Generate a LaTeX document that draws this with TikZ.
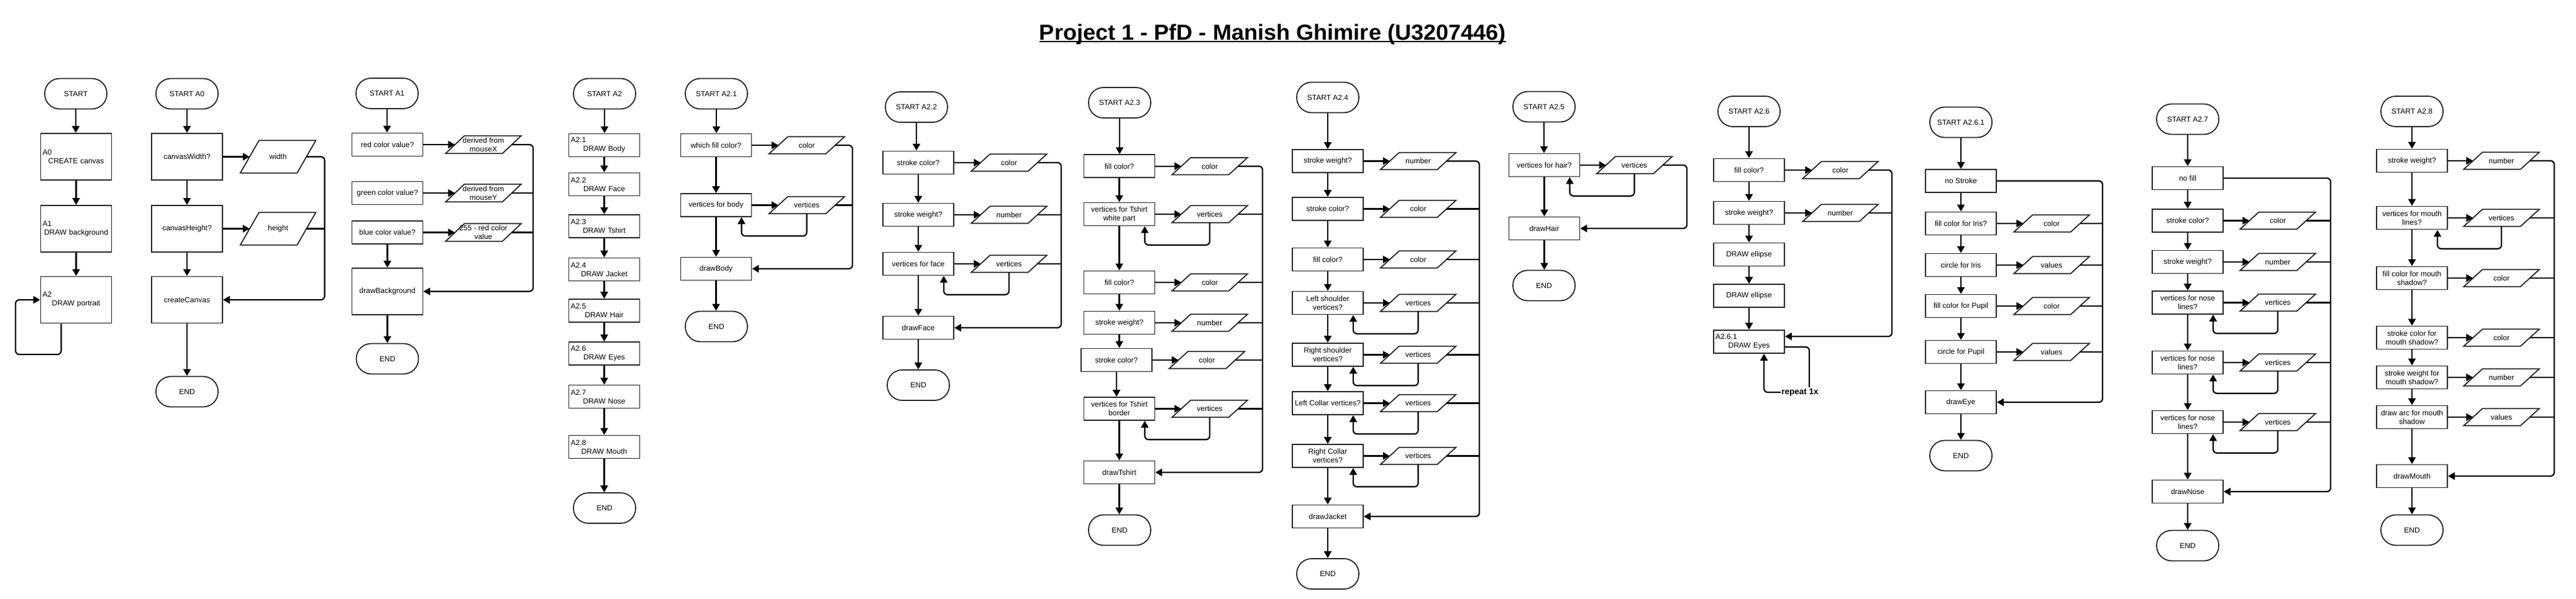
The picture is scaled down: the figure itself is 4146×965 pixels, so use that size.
\documentclass[tikz,border=0pt]{standalone}
\usepackage{fontspec}
\usepackage{graphicx}
\setmainfont{Liberation Sans}
\usetikzlibrary{arrows.meta}
\newcommand\myfs{\fontsize{12}{14}\selectfont}
\newcommand\mylbl[2]{\makebox[\hsize][l]{#1}\\#2}
\tikzset{
 shp/.style={draw=black!85, line width=1.8pt},
 term/.style={shp, rectangle, rounded corners=24pt, minimum width=100pt, minimum height=49pt, inner sep=0pt, font=\myfs},
 box/.style={shp, rectangle, minimum width=114pt, minimum height=37pt, inner sep=2pt, align=center, font=\myfs},
 lbox/.style={box, text width=108pt},
 paratxt/.style={rectangle, minimum width=121pt, minimum height=27pt, inner sep=0pt, align=center, font=\myfs},
 parashape/.style={shp, line join=miter},
 conn/.style={line width=2.2pt, rounded corners=6pt},
 arr/.style={conn, -{Triangle[length=11pt,width=12pt]}},
 replbl/.style={font=\bfseries\fontsize{13.5}{16}\selectfont, fill=white, inner sep=1.5pt},
}
\newcommand\mypara[5]{%
 \node[paratxt,minimum height=#5] (#1) at (#2,#3) {#4};
 \draw[parashape] ([xshift=30pt]#1.north west) -- (#1.north east) -- ([xshift=-30pt]#1.south east) -- (#1.south west) -- cycle;}
\newcommand\mydn[2]{\draw[arr] (#1.south) -- (#1.south |- #2.north);}
\newcommand\myrt[2]{\draw[arr] (#1.east) -- ([xshift=15pt]#2.west);}
\newcommand\mylp[2]{\draw[arr] (#2.south) -- ++(0,36) -| ([xshift=-17pt]#1.south east);}
\newcommand\myjn[2]{\draw[conn] ([xshift=-15pt]#1.east) -- (#2 |- #1.east);}
\newcommand\myfin[3]{\draw[arr] ([xshift=-15pt]#1.east) -| (#2 |- #3.east) -- (#3.east);}
\begin{document}
\begin{tikzpicture}[x=1pt,y=-1pt]
\useasboundingbox (0,0) rectangle (4146,965);
% title
\node[anchor=base, inner sep=0pt] (title) at (2048.5,65) {\resizebox{751pt}{25.5pt}{\bfseries Project 1 - PfD - Manish Ghimire (U3207446)}};
\draw[line width=2pt] ([yshift=-2.5pt]title.base west) -- ([yshift=-2.5pt]title.base east);

% ---------- column 0 : START
\node[term] (s0) at (122,151) {START};
\node[lbox,minimum height=75pt] (a0) at (122.5,252.5) {\mylbl{A0}{CREATE canvas}};
\node[lbox,minimum height=75pt] (a1) at (122.5,368.5) {\mylbl{A1}{DRAW background}};
\node[lbox,minimum height=75pt] (a2) at (122.5,483) {\mylbl{A2}{DRAW portrait}};
\mydn{s0}{a0}\mydn{a0}{a1}\mydn{a1}{a2}
\coordinate (lp0) at (25,571);
\draw[arr] ([xshift=-24pt]a2.south) |- (lp0) |- (a2.west);

% ---------- column 1 : START A0
\node[term] (s1) at (301,151) {START A0};
\node[box,minimum height=75pt] (c1a) at (301,252.5) {canvasWidth?};
\node[box,minimum height=75pt] (c1b) at (301,368.5) {canvasHeight?};
\node[box,minimum height=75pt] (c1c) at (301,483) {createCanvas};
\node[term] (e1) at (301,631) {END};
\mypara{p1a}{447.5}{252.5}{width}{52pt}
\mypara{p1b}{447.5}{368.5}{height}{52pt}
\coordinate (r1) at (522.5,0);
\mydn{s1}{c1a}\mydn{c1a}{c1b}\mydn{c1b}{c1c}\mydn{c1c}{e1}
\myrt{c1a}{p1a}\myrt{c1b}{p1b}
\myfin{p1a}{r1}{c1c}\myjn{p1b}{r1}

% ---------- column 2 : START A1
\node[term] (s2) at (623,150.5) {START A1};
\node[box] (b2a) at (623.5,233) {red color value?};
\node[box] (b2b) at (623.5,311) {green color value?};
\node[box] (b2c) at (623.5,374.5) {blue color value?};
\node[box,minimum height=75pt] (b2d) at (623.5,469.5) {drawBackground};
\node[term] (e2) at (623.5,578) {END};
\mypara{p2a}{778}{233}{derived from\\mouseX}{28pt}
\mypara{p2b}{778}{311}{derived from\\mouseY}{28pt}
\mypara{p2c}{778}{374.5}{255 - red color\\value}{28pt}
\coordinate (r2) at (858,0);
\mydn{s2}{b2a}\mydn{b2c}{b2d}\mydn{b2d}{e2}
\myrt{b2a}{p2a}\myrt{b2b}{p2b}\myrt{b2c}{p2c}
\myfin{p2a}{r2}{b2d}\myjn{p2b}{r2}\myjn{p2c}{r2}

% ---------- column 3 : START A2
\node[term] (s3) at (973,151) {START A2};
\node[lbox] (d1) at (972.5,234) {\mylbl{A2.1}{DRAW Body}};
\node[lbox] (d2) at (972.5,297) {\mylbl{A2.2}{DRAW Face}};
\node[lbox] (d3) at (972.5,364.5) {\mylbl{A2.3}{DRAW Tshirt}};
\node[lbox] (d4) at (972.5,434) {\mylbl{A2.4}{DRAW Jacket}};
\node[lbox] (d5) at (972.5,500.5) {\mylbl{A2.5}{DRAW Hair}};
\node[lbox] (d6) at (972.5,569.5) {\mylbl{A2.6}{DRAW Eyes}};
\node[lbox] (d7) at (972.5,639) {\mylbl{A2.7}{DRAW Nose}};
\node[lbox] (d8) at (972.5,720) {\mylbl{A2.8}{DRAW Mouth}};
\node[term] (e3) at (973,818.5) {END};
\mydn{s3}{d1}\mydn{d1}{d2}\mydn{d2}{d3}\mydn{d3}{d4}\mydn{d4}{d5}\mydn{d5}{d6}\mydn{d6}{d7}\mydn{d7}{d8}\mydn{d8}{e3}

% ---------- column 4 : START A2.1
\node[term] (s4) at (1153,151) {START A2.1};
\node[box] (f1) at (1152.5,234) {which fill color?};
\node[box] (f2) at (1152.5,330.5) {vertices for body};
\node[box] (f3) at (1152.5,433) {drawBody};
\node[term] (e4) at (1153,526) {END};
\mypara{q4a}{1298.5}{234}{color}{27pt}
\mypara{q4b}{1298.5}{330.5}{vertices}{27pt}
\coordinate (r4) at (1372,0);
\mydn{s4}{f1}\mydn{f1}{f2}\mydn{f2}{f3}\mydn{f3}{e4}
\myrt{f1}{q4a}\myrt{f2}{q4b}\mylp{f2}{q4b}
\myfin{q4a}{r4}{f3}\myjn{q4b}{r4}

% ---------- column 5 : START A2.2
\node[term] (s5) at (1475,172.5) {START A2.2};
\node[box] (g1) at (1478,262) {stroke color?};
\node[box] (g2) at (1478,346) {stroke weight?};
\node[box] (g3) at (1478,425) {vertices for face};
\node[box] (g4) at (1478,528) {drawFace};
\node[term] (e5) at (1478,620.5) {END};
\mypara{q5a}{1624}{262}{color}{27pt}
\mypara{q5b}{1624}{346}{number}{27pt}
\mypara{q5c}{1624}{425}{vertices}{27pt}
\coordinate (r5) at (1708,0);
\mydn{s5}{g1}\mydn{g1}{g2}\mydn{g2}{g3}\mydn{g3}{g4}\mydn{g4}{e5}
\myrt{g1}{q5a}\myrt{g2}{q5b}\myrt{g3}{q5c}\mylp{g3}{q5c}
\myfin{q5a}{r5}{g4}\myjn{q5b}{r5}\myjn{q5c}{r5}

% ---------- column 6 : START A2.3
\node[term] (s6) at (1802,165.5) {START A2.3};
\node[box] (h1) at (1801.5,267.75) {fill color?};
\node[box] (h2) at (1801.5,345) {vertices for Tshirt\\white part};
\node[box] (h3) at (1801.5,455) {fill color?};
\node[box] (h4) at (1801.5,520) {stroke weight?};
\node[box] (h5) at (1797,580) {stroke color?};
\node[box] (h6) at (1801.5,658.5) {vertices for Tshirt\\border};
\node[box] (h7) at (1801.5,761) {drawTshirt};
\node[term] (e6) at (1802,854) {END};
\mypara{q6a}{1947}{267.75}{color}{27pt}
\mypara{q6b}{1947}{345}{vertices}{27pt}
\mypara{q6c}{1947}{455}{color}{27pt}
\mypara{q6d}{1947}{520}{number}{27pt}
\mypara{q6e}{1942.5}{580}{color}{27pt}
\mypara{q6f}{1947}{658.5}{vertices}{27pt}
\coordinate (r6) at (2032,0);
\mydn{s6}{h1}\mydn{h1}{h2}\mydn{h2}{h3}\mydn{h3}{h4}\mydn{h4}{h5}\mydn{h5}{h6}\mydn{h6}{h7}\mydn{h7}{e6}
\myrt{h1}{q6a}\myrt{h2}{q6b}\myrt{h3}{q6c}\myrt{h4}{q6d}\myrt{h5}{q6e}\myrt{h6}{q6f}
\mylp{h2}{q6b}\mylp{h6}{q6f}
\myfin{q6a}{r6}{h7}\myjn{q6b}{r6}\myjn{q6c}{r6}\myjn{q6d}{r6}\myjn{q6e}{r6}\myjn{q6f}{r6}

% ---------- column 7 : START A2.4
\node[term] (s7) at (2137,157) {START A2.4};
\node[box] (j1) at (2137,259.5) {stroke weight?};
\node[box] (j2) at (2137,336.5) {stroke color?};
\node[box] (j3) at (2137,418) {fill color?};
\node[box] (j4) at (2137,488) {Left shoulder\\vertices?};
\node[box] (j5) at (2137,571.5) {Right shoulder\\vertices?};
\node[box] (j6) at (2137,649.5) {Left Collar vertices?};
\node[box] (j7) at (2137,734.5) {Right Collar\\vertices?};
\node[box] (j8) at (2137,832) {drawJacket};
\node[term] (e7) at (2137,924.5) {END};
\mypara{q7a}{2282.5}{259.5}{number}{27pt}
\mypara{q7b}{2282.5}{336.5}{color}{27pt}
\mypara{q7c}{2282.5}{418}{color}{27pt}
\mypara{q7d}{2282.5}{488}{vertices}{27pt}
\mypara{q7e}{2282.5}{571.5}{vertices}{27pt}
\mypara{q7f}{2282.5}{649.5}{vertices}{27pt}
\mypara{q7g}{2282.5}{734.5}{vertices}{27pt}
\coordinate (r7) at (2381,0);
\mydn{s7}{j1}\mydn{j1}{j2}\mydn{j2}{j3}\mydn{j3}{j4}\mydn{j4}{j5}\mydn{j5}{j6}\mydn{j6}{j7}\mydn{j7}{j8}\mydn{j8}{e7}
\myrt{j1}{q7a}\myrt{j2}{q7b}\myrt{j3}{q7c}\myrt{j4}{q7d}\myrt{j5}{q7e}\myrt{j6}{q7f}\myrt{j7}{q7g}
\mylp{j4}{q7d}\mylp{j5}{q7e}\mylp{j6}{q7f}\mylp{j7}{q7g}
\myfin{q7a}{r7}{j8}\myjn{q7b}{r7}\myjn{q7c}{r7}\myjn{q7d}{r7}\myjn{q7e}{r7}\myjn{q7f}{r7}\myjn{q7g}{r7}

% ---------- column 8 : START A2.5
\node[term] (s8) at (2485,172) {START A2.5};
\node[box] (k1) at (2485.5,266) {vertices for hair?};
\node[box] (k2) at (2485.5,368) {drawHair};
\node[term] (e8) at (2485,460) {END};
\mypara{q8a}{2630.5}{266}{vertices}{27pt}
\coordinate (r8) at (2715,0);
\mydn{s8}{k1}\mydn{k1}{k2}\mydn{k2}{e8}
\myrt{k1}{q8a}\mylp{k1}{q8a}
\myfin{q8a}{r8}{k2}

% ---------- column 9 : START A2.6
\node[term] (s9) at (2815,179.5) {START A2.6};
\node[box] (m1) at (2815,274) {fill color?};
\node[box] (m2) at (2815,343) {stroke weight?};
\node[box] (m3) at (2815,410) {DRAW ellipse};
\node[box] (m4) at (2815,476.5) {DRAW ellipse};
\node[lbox] (m5) at (2815,550.5) {\mylbl{A2.6.1}{DRAW Eyes}};
\mypara{q9a}{2962}{274}{color}{27pt}
\mypara{q9b}{2962}{343}{number}{27pt}
\coordinate (r9) at (3045,0);
\coordinate (m5in) at ([yshift=8.5pt]m5.east);
\mydn{s9}{m1}\mydn{m1}{m2}\mydn{m2}{m3}\mydn{m3}{m4}\mydn{m4}{m5}
\myrt{m1}{q9a}\myrt{m2}{q9b}
\draw[arr] ([xshift=-15pt]q9a.east) -| (r9 |- m5in) -- (m5in);
\myjn{q9b}{r9}
\coordinate (rp) at (2912,632);
\draw[arr] ([yshift=-8.5pt]m5.east) -| (rp) -| ([xshift=24pt]m5.south);
\node[replbl] (rep) at (2897,632) {repeat 1x};

% ---------- column 10 : START A2.6.1
\node[term] (s10) at (3156,197) {START A2.6.1};
\node[box] (n1) at (3156,291.5) {no Stroke};
\node[box] (n2) at (3156,360) {fill color for Iris?};
\node[box] (n3) at (3156,427) {circle for Iris};
\node[box] (n4) at (3156,493) {fill color for Pupil};
\node[box] (n5) at (3156,567) {circle for Pupil};
\node[box] (n6) at (3156,648) {drawEye};
\node[term] (e10) at (3156,734) {END};
\mypara{q10a}{3302}{360}{color}{27pt}
\mypara{q10b}{3302}{427}{values}{27pt}
\mypara{q10c}{3302}{493}{color}{27pt}
\mypara{q10d}{3302}{567}{values}{27pt}
\coordinate (r10) at (3384,0);
\mydn{s10}{n1}\mydn{n1}{n2}\mydn{n2}{n3}\mydn{n3}{n4}\mydn{n4}{n5}\mydn{n5}{n6}\mydn{n6}{e10}
\myrt{n2}{q10a}\myrt{n3}{q10b}\myrt{n4}{q10c}\myrt{n5}{q10d}
\draw[arr] (n1.east) -| (r10 |- n6.east) -- (n6.east);
\myjn{q10a}{r10}\myjn{q10b}{r10}\myjn{q10c}{r10}\myjn{q10d}{r10}

% ---------- column 11 : START A2.7
\node[term] (s11) at (3521,192) {START A2.7};
\node[box] (t1) at (3521,287) {no fill};
\node[box] (t2) at (3521,355.5) {stroke color?};
\node[box] (t3) at (3521,422) {stroke weight?};
\node[box] (t4) at (3521,487.5) {vertices for nose\\lines?};
\node[box] (t5) at (3521,584) {vertices for nose\\lines?};
\node[box] (t6) at (3521,680) {vertices for nose\\lines?};
\node[box] (t7) at (3521,792) {drawNose};
\node[term] (e11) at (3521,879) {END};
\mypara{q11a}{3666}{355.5}{color}{27pt}
\mypara{q11b}{3666}{422}{number}{27pt}
\mypara{q11c}{3666}{487.5}{vertices}{27pt}
\mypara{q11d}{3666}{584}{vertices}{27pt}
\mypara{q11e}{3666}{680}{vertices}{27pt}
\coordinate (r11) at (3751,0);
\mydn{s11}{t1}\mydn{t1}{t2}\mydn{t2}{t3}\mydn{t3}{t4}\mydn{t4}{t5}\mydn{t5}{t6}\mydn{t6}{t7}\mydn{t7}{e11}
\myrt{t2}{q11a}\myrt{t3}{q11b}\myrt{t4}{q11c}\myrt{t5}{q11d}\myrt{t6}{q11e}
\mylp{t4}{q11c}\mylp{t5}{q11d}\mylp{t6}{q11e}
\draw[arr] (t1.east) -| (r11 |- t7.east) -- (t7.east);
\myjn{q11a}{r11}\myjn{q11b}{r11}\myjn{q11c}{r11}\myjn{q11d}{r11}\myjn{q11e}{r11}

% ---------- column 12 : START A2.8
\node[term] (s12) at (3882,179.5) {START A2.8};
\node[box] (u1) at (3882,259) {stroke weight?};
\node[box] (u2) at (3882,351) {vertices for mouth\\lines?};
\node[box] (u3) at (3882,448) {fill color for mouth\\shadow?};
\node[box] (u4) at (3882,544) {stroke color for\\mouth shadow?};
\node[box] (u5) at (3882,608) {stroke weight for\\mouth shadow?};
\node[box] (u6) at (3882,672) {draw arc for mouth\\shadow};
\node[box] (u7) at (3882,767) {drawMouth};
\node[term] (e12) at (3882,854) {END};
\mypara{q12a}{4026}{259}{number}{27pt}
\mypara{q12b}{4026}{351}{vertices}{27pt}
\mypara{q12c}{4026}{448}{color}{27pt}
\mypara{q12d}{4026}{544}{color}{27pt}
\mypara{q12e}{4026}{608}{number}{27pt}
\mypara{q12f}{4026}{672}{values}{27pt}
\coordinate (r12) at (4111,0);
\mydn{s12}{u1}\mydn{u1}{u2}\mydn{u2}{u3}\mydn{u3}{u4}\mydn{u4}{u5}\mydn{u5}{u6}\mydn{u6}{u7}\mydn{u7}{e12}
\myrt{u1}{q12a}\myrt{u2}{q12b}\myrt{u3}{q12c}\myrt{u4}{q12d}\myrt{u5}{q12e}\myrt{u6}{q12f}
\mylp{u2}{q12b}
\myfin{q12a}{r12}{u7}\myjn{q12b}{r12}\myjn{q12c}{r12}\myjn{q12d}{r12}\myjn{q12e}{r12}\myjn{q12f}{r12}
\end{tikzpicture}
\end{document}
